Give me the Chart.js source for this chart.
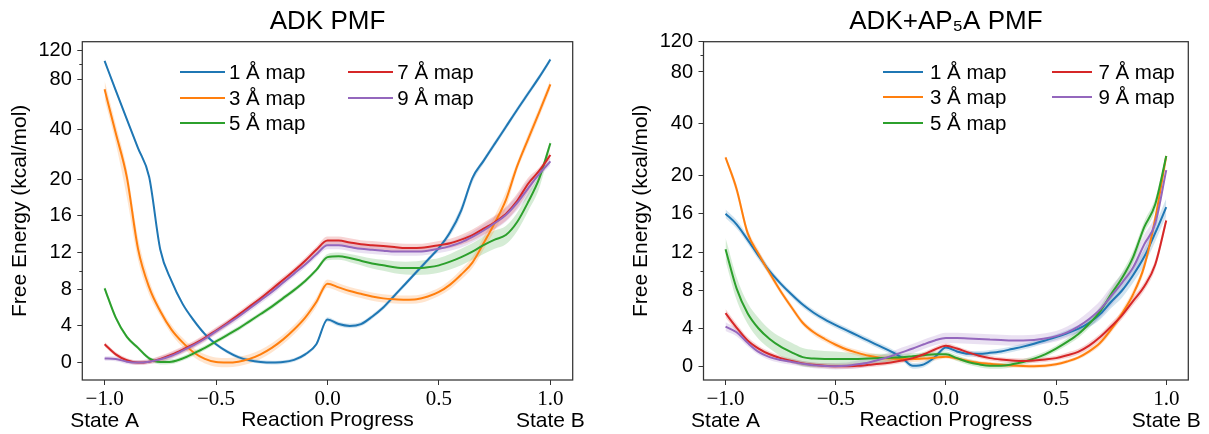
<!DOCTYPE html>
<html>
<head>
<meta charset="utf-8">
<script src="https://cdn.jsdelivr.net/npm/chart.js@4.4.1/dist/chart.umd.min.js"></script>
<style>
html,body{margin:0;padding:0;background:#fff;}
#wrap{position:relative;width:1209px;height:434px;overflow:hidden;background:#fff;}
#wrap canvas{position:absolute;top:0;}
</style>
</head>
<body>
<div id="wrap">
<canvas id="c1" width="604" height="434" style="left:0px;width:604px;height:434px"></canvas>
<canvas id="c2" width="605" height="434" style="left:604px;width:605px;height:434px"></canvas>
</div>
<script>
// ---------------- data ----------------
const progress = [-1.00,-0.95,-0.90,-0.85,-0.80,-0.75,-0.70,-0.65,-0.60,-0.55,-0.50,-0.45,-0.40,-0.35,-0.30,-0.25,-0.20,-0.15,-0.10,-0.05,
                  0.00,0.05,0.10,0.15,0.20,0.25,0.30,0.35,0.40,0.45,0.50,0.55,0.60,0.65,0.70,0.75,0.80,0.85,0.90,0.95,1.00];
const xTickValues = [-1, -0.5, 0, 0.5, 1];
const xTickLabels = ['\u22121.0', '\u22120.5', '0.0', '0.5', '1.0'];
const yTickValues = [0, 4, 8, 12, 16, 20, 40, 80, 120];
const yMinorTicks = [10, 100];
const stateValues = [-1, 1];
const stateLabels = ['State A', 'State B'];
const seriesLabels = ['1 \u00C5 map', '3 \u00C5 map', '5 \u00C5 map', '7 \u00C5 map', '9 \u00C5 map'];
const seriesColors = ['#1f77b4', '#ff7f0e', '#2ca02c', '#d62728', '#9467bd'];

// ADK PMF
const adk1 = [104,69,46,30.8,20.6,12.3,8.9,6.4,4.6,3.1,2.0,1.2,0.6,0.25,0.07,0.0,0.05,0.3,0.9,2.0,
              4.7,4.2,4.0,4.2,5.0,6.0,7.3,8.6,9.9,11.2,12.5,14.2,16.6,20.3,25.8,32.7,41.4,52.5,66,83,106];
const adk3 = [70,38,20.5,12.4,8.2,5.6,3.6,2.2,1.1,0.4,0.05,0.0,0.1,0.4,0.9,1.6,2.5,3.6,4.9,6.6,
              8.6,8.2,7.8,7.5,7.2,7.0,6.9,6.85,6.9,7.2,7.7,8.5,9.6,10.9,13.0,15.2,17.7,23.8,35,51,75];
const adk5 = [8.1,4.9,2.8,1.6,0.45,0.05,0.1,0.45,1.0,1.6,2.3,3.0,3.7,4.5,5.3,6.1,7.0,7.9,8.9,10.1,
              11.5,11.6,11.4,11.1,10.8,10.6,10.4,10.3,10.3,10.4,10.6,11.0,11.5,12.1,12.8,13.4,13.9,15.3,17.5,20.2,33];
const adk7 = [2.0,0.9,0.25,0.0,0.1,0.4,0.85,1.4,2.0,2.7,3.5,4.3,5.2,6.1,7.0,8.0,9.0,10.0,11.1,12.3,
              13.3,13.3,13.1,12.9,12.8,12.7,12.6,12.5,12.5,12.6,12.8,13.0,13.4,13.9,14.6,15.3,16.2,17.6,19.5,22.5,28];
const adk9 = [0.45,0.4,0.1,0.0,0.1,0.35,0.75,1.3,1.9,2.6,3.4,4.2,5.0,5.9,6.8,7.7,8.7,9.7,10.7,11.8,
              12.8,12.8,12.6,12.4,12.3,12.2,12.1,12.1,12.1,12.2,12.4,12.7,13.1,13.7,14.4,15.2,16.1,17.4,19.0,21.5,25.6];
const adkErr1 = [3,2,1.2,0.8,0.5,0.2,0.2,0.2,0.2,0.2,0.2,0.2,0.2,0.2,0.2,0.2,0.2,0.2,0.2,0.2,
                 0.25,0.25,0.25,0.25,0.25,0.25,0.25,0.25,0.25,0.25,0.25,0.4,0.5,0.7,1.0,1.3,1.6,2,2.5,3,3.5];
const adkErr3 = [9,5,2.5,1.2,0.8,0.5,0.5,0.5,0.5,0.5,0.5,0.5,0.5,0.5,0.5,0.5,0.5,0.5,0.5,0.5,
                 0.45,0.45,0.45,0.45,0.45,0.45,0.45,0.45,0.45,0.45,0.45,0.5,0.55,0.6,0.7,0.8,0.9,1.5,2.5,3.5,5];
const adkErr5 = [0.3,0.25,0.2,0.2,0.2,0.25,0.25,0.25,0.25,0.25,0.25,0.25,0.25,0.25,0.25,0.25,0.25,0.25,0.25,0.25,
                 0.35,0.4,0.45,0.5,0.55,0.6,0.65,0.7,0.75,0.8,0.8,0.85,0.9,0.9,0.95,1.0,1.0,1.0,1.0,1.2,1.8];
const adkErr7 = [0.25,0.25,0.25,0.25,0.25,0.35,0.35,0.35,0.35,0.35,0.35,0.35,0.35,0.35,0.35,0.35,0.35,0.35,0.35,0.35,
                 0.45,0.45,0.45,0.45,0.45,0.45,0.45,0.45,0.45,0.45,0.45,0.5,0.55,0.6,0.65,0.7,0.75,0.8,0.9,1.0,1.4];
const adkErr9 = [0.25,0.25,0.25,0.25,0.25,0.35,0.35,0.35,0.35,0.35,0.35,0.35,0.35,0.35,0.35,0.35,0.35,0.35,0.35,0.35,
                 0.45,0.45,0.45,0.45,0.45,0.45,0.45,0.45,0.45,0.45,0.45,0.5,0.55,0.6,0.65,0.7,0.75,0.8,0.9,1.0,1.3];

// ADK+AP5A PMF
const ap1 = [16.0,14.9,13.3,11.6,10.0,8.7,7.55,6.5,5.65,4.95,4.35,3.8,3.25,2.7,2.15,1.6,0.95,0.1,0.25,1.0,
             2.0,1.6,1.35,1.35,1.45,1.6,1.85,2.1,2.4,2.75,3.1,3.5,3.95,4.6,5.5,6.8,8.0,9.6,11.5,14.0,16.7];
const ap3 = [25.5,18.6,14.0,11.8,9.8,7.9,6.2,4.6,3.6,2.9,2.3,1.8,1.45,1.15,0.95,0.85,0.8,0.8,0.85,0.95,
             1.05,0.85,0.6,0.4,0.3,0.2,0.12,0.07,0.05,0.1,0.25,0.55,0.95,1.6,2.5,3.9,5.6,7.6,10.5,15.5,26];
const ap5 = [12.3,8.2,5.6,4.0,2.9,2.1,1.5,1.0,0.85,0.8,0.8,0.8,0.82,0.85,0.9,0.95,1.0,1.1,1.2,1.3,
             1.3,0.9,0.5,0.25,0.1,0.1,0.25,0.5,0.85,1.3,1.9,2.6,3.4,4.5,5.8,7.6,9.3,11.5,14.6,17.0,26];
const ap7 = [5.6,4.1,2.75,1.9,1.3,0.9,0.6,0.35,0.2,0.1,0.05,0.05,0.1,0.2,0.3,0.45,0.65,0.9,1.3,1.8,
             2.2,1.9,1.5,1.15,0.9,0.75,0.65,0.6,0.65,0.75,0.9,1.2,1.55,2.2,3.1,4.2,5.4,6.9,8.4,10.7,15.3];
const ap9 = [4.2,3.6,2.5,1.55,1.0,0.7,0.5,0.3,0.15,0.08,0.05,0.1,0.25,0.45,0.75,1.1,1.5,1.9,2.35,2.75,
             3.0,3.0,2.95,2.9,2.85,2.8,2.75,2.75,2.8,2.95,3.2,3.6,4.2,5.0,6.0,7.4,8.8,10.4,12.8,15.0,21.5];
const apErr1 = [0.45,0.45,0.4,0.4,0.35,0.3,0.3,0.3,0.3,0.3,0.3,0.3,0.3,0.3,0.3,0.3,0.3,0.3,0.3,0.3,
                0.3,0.3,0.3,0.3,0.3,0.3,0.3,0.3,0.3,0.3,0.3,0.35,0.4,0.45,0.55,0.65,0.75,0.8,0.85,0.9,0.9];
const apErr3 = [0.6,0.5,0.45,0.4,0.35,0.3,0.3,0.3,0.3,0.3,0.3,0.3,0.3,0.3,0.3,0.3,0.3,0.3,0.3,0.3,
                0.2,0.2,0.2,0.2,0.2,0.2,0.2,0.2,0.2,0.2,0.2,0.2,0.2,0.25,0.3,0.35,0.4,0.45,0.5,0.6,0.7];
const apErr5 = [1.2,1.2,1.1,1.1,1.0,1.0,1.0,0.95,0.9,0.85,0.8,0.7,0.6,0.5,0.45,0.4,0.35,0.3,0.3,0.3,
                0.3,0.3,0.3,0.3,0.3,0.3,0.3,0.3,0.3,0.3,0.3,0.35,0.4,0.45,0.5,0.55,0.6,0.6,0.6,0.6,0.6];
const apErr7 = [0.45,0.4,0.35,0.3,0.3,0.25,0.25,0.25,0.25,0.25,0.25,0.25,0.25,0.25,0.25,0.25,0.25,0.25,0.25,0.25,
                0.25,0.25,0.25,0.25,0.25,0.25,0.25,0.25,0.25,0.25,0.25,0.3,0.3,0.35,0.35,0.4,0.4,0.45,0.45,0.5,0.5];
const apErr9 = [0.45,0.4,0.35,0.3,0.3,0.3,0.3,0.3,0.3,0.3,0.35,0.35,0.4,0.4,0.45,0.45,0.5,0.5,0.5,0.5,
                0.55,0.55,0.55,0.55,0.55,0.55,0.55,0.55,0.55,0.55,0.55,0.6,0.7,0.8,0.9,1.0,1.0,1.0,1.0,0.9,0.8];

// ---------------- symlog scale (linthresh 20, base 10, linscale 1) ----------------
const LINTHRESH = 20, LINSCALE = 1 / (1 - 1 / 10);
function symlog(v) {
  const a = Math.abs(v);
  if (a <= LINTHRESH) return v * LINSCALE;
  return Math.sign(v) * LINTHRESH * (LINSCALE + Math.log10(a / LINTHRESH));
}
function symexp(t) {
  const a = Math.abs(t);
  if (a <= LINTHRESH * LINSCALE) return t / LINSCALE;
  return Math.sign(t) * LINTHRESH * Math.pow(10, a / LINTHRESH - LINSCALE);
}
class SymlogScale extends Chart.LinearScale {
  buildTicks() { return yTickValues.map(v => ({ value: v })); }
  getPixelForValue(v) {
    const a = symlog(this.min), b = symlog(this.max);
    return this.getPixelForDecimal((symlog(v) - a) / (b - a));
  }
  getValueForPixel(p) {
    const a = symlog(this.min), b = symlog(this.max);
    return symexp(a + this.getDecimalForPixel(p) * (b - a));
  }
}
SymlogScale.id = 'symlog';
SymlogScale.defaults = {};
Chart.register(SymlogScale);

// ---------------- helpers ----------------
const SANS = '"Liberation Sans", Arial, Helvetica, sans-serif';
const SERIF = '"Liberation Serif", "Times New Roman", serif';
function rgba(hex, a) {
  const n = parseInt(hex.slice(1), 16);
  return `rgba(${(n >> 16) & 255},${(n >> 8) & 255},${n & 255},${a})`;
}
function makeDatasets(values, errs) {
  const out = [];
  values.forEach((vals, i) => {
    const c = seriesColors[i];
    out.push({ label: seriesLabels[i], data: progress.map((x, j) => ({ x, y: vals[j] })),
      borderColor: c, backgroundColor: c, borderWidth: 2, pointRadius: 0,
      cubicInterpolationMode: 'monotone', fill: false, order: values.length - i });
    out.push({ label: '', data: progress.map((x, j) => ({ x, y: vals[j] + errs[i][j] })),
      borderColor: 'rgba(0,0,0,0)', backgroundColor: rgba(c, 0.2), borderWidth: 0, pointRadius: 0,
      cubicInterpolationMode: 'monotone', fill: '+1', order: 20 });
    out.push({ label: '', data: progress.map((x, j) => ({ x, y: vals[j] - errs[i][j] })),
      borderColor: 'rgba(0,0,0,0)', backgroundColor: 'rgba(0,0,0,0)', borderWidth: 0, pointRadius: 0,
      cubicInterpolationMode: 'monotone', fill: false, order: 20 });
  });
  return out;
}
const decor = {
  id: 'decor',
  afterDraw(chart) {
    const { ctx, chartArea: a } = chart;
    const x = chart.scales.x, y = chart.scales.y;
    ctx.save();
    ctx.strokeStyle = '#333';
    ctx.lineWidth = 1.25;
    ctx.strokeRect(a.left, a.top, a.right - a.left, a.bottom - a.top);
    ctx.lineWidth = 1;
    yMinorTicks.forEach(v => {
      const py = Math.round(y.getPixelForValue(v)) + 0.5;
      ctx.beginPath(); ctx.moveTo(a.left - 3, py); ctx.lineTo(a.left, py); ctx.stroke();
    });
    ctx.fillStyle = '#000';
    ctx.font = '21px ' + SANS;
    ctx.textAlign = 'center';
    ctx.textBaseline = 'alphabetic';
    stateLabels.forEach((t, k) => ctx.fillText(t, x.getPixelForValue(stateValues[k]), 427));
    ctx.restore();
  }
};

function makeChart(cfg) {
  return new Chart(document.getElementById(cfg.canvas), {
    type: 'line',
    data: { datasets: makeDatasets(cfg.values, cfg.errs) },
    plugins: [decor],
    options: {
      responsive: false,
      animation: false,
      devicePixelRatio: 1,
      layout: { padding: { left: 0, right: cfg.padRight, top: 0, bottom: 0 } },
      plugins: {
        legend: { display: false },
        tooltip: { enabled: false },
        filler: { drawTime: 'beforeDatasetsDraw' },
        title: { display: true, text: cfg.title, fullSize: false, color: '#000',
          font: { family: SANS, size: 26, weight: 'normal', lineHeight: 1.2 },
          padding: { top: 6.4, bottom: 4.1 } }
      },
      scales: {
        x: {
          type: 'linear', min: -1.1, max: 1.1,
          afterBuildTicks: s => { s.ticks = xTickValues.map(v => ({ value: v })); },
          afterFit: s => { s.height = 54; },
          grid: { display: true, drawOnChartArea: false, drawTicks: true, tickLength: 5, tickColor: '#333', tickWidth: 1 },
          border: { display: false },
          ticks: { autoSkip: false, maxRotation: 0, padding: 2, color: '#000',
            font: { family: SERIF, size: 21, lineHeight: 1.2 },
            callback: v => { const k = xTickValues.indexOf(v); return k >= 0 ? xTickLabels[k] : ''; } },
          title: { display: true, text: 'Reaction Progress', color: '#000',
            font: { family: SANS, size: 21, lineHeight: 1.2 }, padding: { top: 0, bottom: 0.7 } }
        },
        y: {
          type: 'symlog', min: cfg.yMin, max: cfg.yMax,
          afterFit: s => { s.width = cfg.yAxisWidth; },
          grid: { display: true, drawOnChartArea: false, drawTicks: true, tickLength: 5, tickColor: '#333', tickWidth: 1 },
          border: { display: false },
          ticks: { autoSkip: false, padding: 5.5, color: '#000',
            font: { family: SANS, size: 20, lineHeight: 1.2 },
            callback: v => String(v) },
          title: { display: true, text: 'Free Energy (kcal/mol)', color: '#000',
            font: { family: SANS, size: 21, lineHeight: 1.2 }, padding: { top: cfg.yTitlePad, bottom: 0 } }
        }
      }
    }
  });
}

function htmlLegend(chart, L) {
  const wrap = document.getElementById('wrap');
  chart.data.datasets.filter(d => d.label).forEach((d, i) => {
    const col = Math.floor(i / 3), row = i % 3;
    const x = L.x + col * L.colStep, y = L.y + row * L.rowStep;
    const line = document.createElement('div');
    line.style.cssText = `position:absolute;left:${x}px;top:${y - 1}px;width:${L.lineLen}px;height:2px;background:${d.borderColor};`;
    const txt = document.createElement('div');
    txt.textContent = d.label;
    txt.style.cssText = `position:absolute;left:${x + L.lineLen + L.gap}px;top:${y - 12}px;height:24px;` +
      `font-family:${SANS};font-size:20.5px;line-height:24px;white-space:nowrap;color:#000;`;
    wrap.append(line, txt);
  });
}

const left = makeChart({ canvas: 'c1', title: 'ADK PMF', values: [adk1, adk3, adk5, adk7, adk9],
  errs: [adkErr1, adkErr3, adkErr5, adkErr7, adkErr9], yMin: -1.9, yMax: 136,
  yAxisWidth: 82.3, padRight: 31.3, yTitlePad: 7.4 });
const right = makeChart({ canvas: 'c2', title: 'ADK+AP\u2085A PMF', values: [ap1, ap3, ap5, ap7, ap9],
  errs: [apErr1, apErr3, apErr5, apErr7, apErr9], yMin: -1.39, yMax: 120,
  yAxisWidth: 99.5, padRight: 20.7, yTitlePad: 24.9 });

htmlLegend(left, { x: 180, lineLen: 45, gap: 4, colStep: 168.3, y: 71.7, rowStep: 25.8 });
htmlLegend(right, { x: 883.3, lineLen: 40, gap: 6.7, colStep: 168.4, y: 71.7, rowStep: 25.5 });
</script>
</body>
</html>
